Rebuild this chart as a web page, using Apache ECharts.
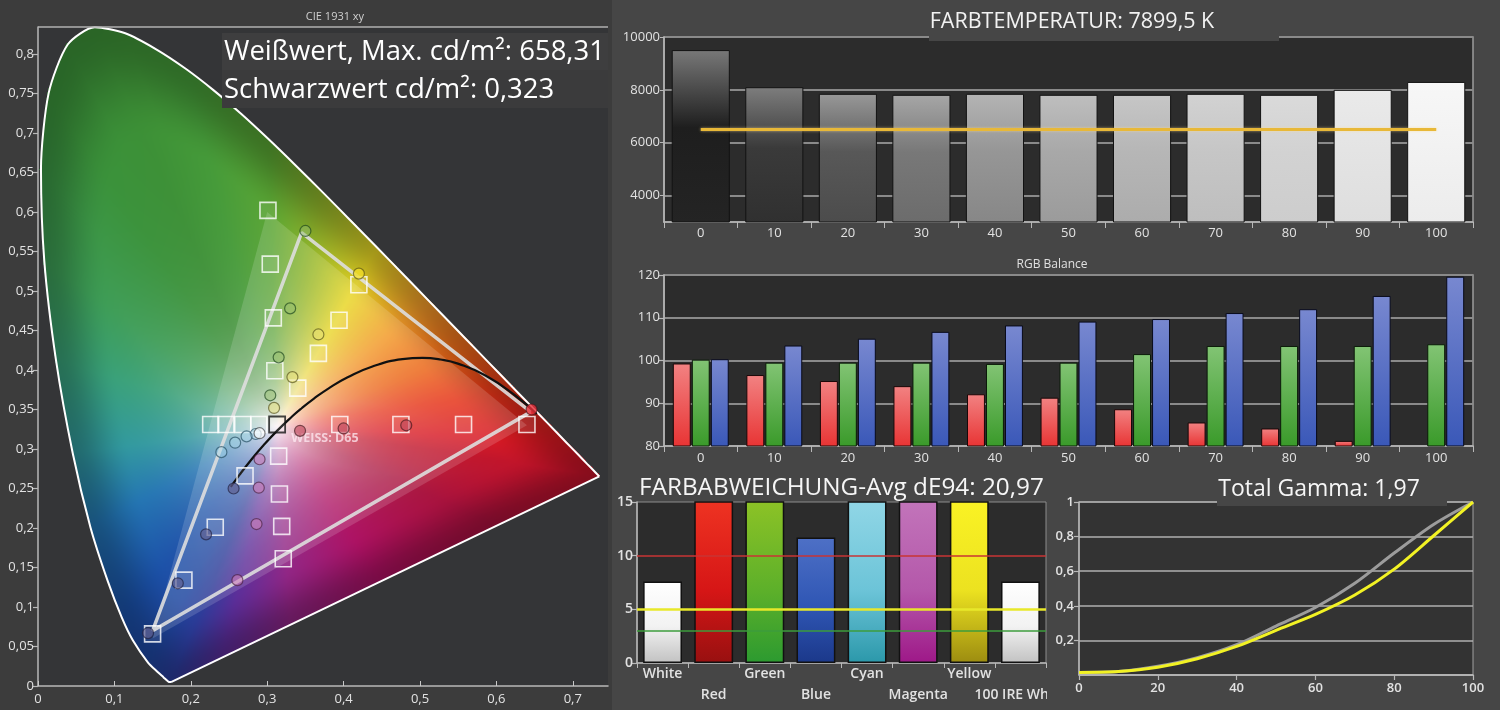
<!DOCTYPE html>
<html><head><meta charset="utf-8">
<script src="https://cdn.jsdelivr.net/npm/echarts@6/dist/echarts.min.js"></script>
<style>
html,body{margin:0;padding:0;}
body{background:linear-gradient(to right,#3c3c3c 0,#3c3c3c 612px,#464646 612px,#464646 100%);}
#c{width:1500px;height:710px;}
</style>
</head><body><div id="c"></div>
<script>
// ================= DATA =================
// CIE 1931 spectral locus (x, y)
const spectralLocus = [
 [0.1741,0.0050],[0.1733,0.0048],[0.1714,0.0051],[0.1689,0.0069],[0.1644,0.0109],
 [0.1566,0.0177],[0.1440,0.0297],[0.1241,0.0578],[0.1096,0.0868],[0.0913,0.1327],
 [0.0687,0.2007],[0.0454,0.2950],[0.0235,0.4127],[0.0082,0.5384],[0.0039,0.6548],
 [0.0139,0.7502],[0.0389,0.8120],[0.0743,0.8338],[0.1142,0.8262],[0.1547,0.8059],
 [0.1929,0.7816],[0.2296,0.7543],[0.2658,0.7243],[0.3016,0.6923],[0.3373,0.6589],
 [0.3731,0.6245],[0.4087,0.5896],[0.4441,0.5547],[0.4788,0.5202],[0.5125,0.4866],
 [0.5448,0.4544],[0.5752,0.4242],[0.6029,0.3965],[0.6270,0.3725],[0.6482,0.3514],
 [0.6658,0.3340],[0.6915,0.3083],[0.7079,0.2920],[0.7190,0.2809],[0.7260,0.2740],
 [0.7347,0.2653]
];
const planckLocus = [
 [0.2524,0.2522],[0.2637,0.2673],[0.2807,0.2883],[0.2952,0.3048],[0.3135,0.3236],
 [0.3325,0.3411],[0.3451,0.3516],[0.3608,0.3635],[0.3805,0.3768],[0.4053,0.3907],
 [0.4369,0.4041],[0.4770,0.4137],[0.5034,0.4153],[0.5267,0.4133],[0.5496,0.4081],
 [0.5857,0.3931],[0.6250,0.3674],[0.6528,0.3444]
];
const whitePoint = [0.3127,0.329];
const targetGamut = [[0.64,0.33],[0.30,0.60],[0.15,0.06]];
const measuredGamut = [[0.645,0.347],[0.345,0.574],[0.150,0.070]];
const whiteTarget = [[0.313,0.331]];
const targetSweep = [
 [0.395,0.331],[0.475,0.331],[0.557,0.331],[0.640,0.331],
 [0.289,0.331],[0.268,0.331],[0.246,0.331],[0.226,0.331],
 [0.310,0.399],[0.308,0.466],[0.304,0.534],[0.301,0.602],
 [0.340,0.377],[0.367,0.421],[0.394,0.463],[0.420,0.508],
 [0.271,0.266],[0.232,0.201],[0.191,0.134],[0.150,0.066],
 [0.315,0.291],[0.316,0.243],[0.319,0.202],[0.321,0.161]
];
const measuredRed = [[0.343,0.323],[0.400,0.326],[0.482,0.330],[0.646,0.350]];
const measuredCyan = [[0.285,0.319],[0.273,0.316],[0.258,0.308],[0.240,0.296]];
const measuredGreen = [[0.304,0.368],[0.315,0.416],[0.330,0.478],[0.350,0.576]];
const measuredYellow = [[0.309,0.352],[0.333,0.391],[0.367,0.445],[0.420,0.522]];
const measuredBlue = [[0.256,0.250],[0.220,0.192],[0.183,0.130],[0.144,0.067]];
const measuredMagenta = [[0.290,0.287],[0.289,0.251],[0.286,0.205],[0.261,0.134]];
const measuredWhite = [[0.290,0.320]];

const levelCategories = ['0','10','20','30','40','50','60','70','80','90','100'];
const cctValues = [9505,8100,7850,7812,7850,7812,7812,7850,7812,8000,8300];
const cctTarget = [6500,6500,6500,6500,6500,6500,6500,6500,6500,6500,6500];
const cctTicks = [4000,6000,8000,10000];

const rgbRed   = [99.3,96.6,95.2,94.0,92.1,91.3,88.6,85.5,84.1,81.2,79];
const rgbGreen = [100.2,99.5,99.5,99.5,99.2,99.5,101.5,103.4,103.4,103.4,103.8];
const rgbBlue  = [100.3,103.5,105.1,106.7,108.2,109.1,109.7,111.1,112.0,115.1,119.6];

const deCategories = ['White','Red','Green','Blue','Cyan','Magenta','Yellow','100 IRE White'];
const deValues = [7.6,28,30,11.7,27,26,30,7.6];
const deThresholds = [10,5,3];

const gammaX = [0,10,20,30,40,50,60,70,80,90,100];
const gammaReference = [0.015,0.02,0.05,0.10,0.175,0.283,0.39,0.53,0.705,0.87,1.0];
const gammaMeasured  = [0.015,0.02,0.045,0.094,0.165,0.258,0.35,0.462,0.612,0.805,1.0];

// ================= HELPERS =================
const SANS = '"Open Sans","Noto Sans",sans-serif';
const X_MAX = 570/764, Y_MAX = 659/790;
const comma = v => String(Math.round(v*100)/100).replace('.',',');
const G = echarts.graphic;

function hex(c){return [parseInt(c.slice(1,3),16),parseInt(c.slice(3,5),16),parseInt(c.slice(5,7),16)];}

let cieCanvas = null;
function buildCIE(w,h){
  const WX=whitePoint[0], WY=whitePoint[1];
  const poly = spectralLocus, NB = 2048;
  const R = new Float32Array(NB);
  for(let b=0;b<NB;b++){
    const a=b/NB*2*Math.PI-Math.PI, dx=Math.cos(a), dy=Math.sin(a);
    let best=1e9;
    for(let k=0;k<poly.length;k++){
      const p=poly[k], q=poly[(k+1)%poly.length];
      const ex=q[0]-p[0], ey=q[1]-p[1], den=dx*ey-dy*ex;
      if(Math.abs(den)<1e-12) continue;
      const px=p[0]-WX, py=p[1]-WY;
      const t=(px*ey-py*ex)/den, u=(px*dy-py*dx)/den;
      if(t>0&&u>=-1e-9&&u<=1+1e-9&&t<best) best=t;
    }
    R[b]=best;
  }
  // edge colour anchors (style only)
  const anchors = [
   [0.7347,0.2653,'#c01228'],[0.60,0.2028,'#a8103c'],[0.45,0.133,'#ac1062'],[0.33,0.077,'#902484'],
   [0.24,0.036,'#5a2c98'],[0.174,0.005,'#2a3a98'],[0.144,0.030,'#1e46a0'],[0.1096,0.0868,'#1a50a8'],
   [0.0687,0.2007,'#2274b2'],[0.0454,0.2950,'#30989e'],[0.0235,0.4127,'#38a078'],[0.0082,0.5384,'#3c9c55'],
   [0.0139,0.7502,'#3a923a'],[0.0743,0.8338,'#3c9036'],[0.1929,0.7816,'#449a38'],[0.3016,0.6923,'#58a432'],
   [0.3731,0.6245,'#92b62a'],[0.4441,0.5547,'#e8d624'],[0.5125,0.4866,'#f29a28'],[0.5752,0.4242,'#ec6418'],
   [0.6270,0.3725,'#e63418'],[0.6915,0.3083,'#d81822']
  ].map(a=>({ang:Math.atan2(a[1]-WY,a[0]-WX),c:hex(a[2])})).sort((p,q)=>p.ang-q.ang);
  const E = new Float32Array(NB*3);
  for(let b=0;b<NB;b++){
    const a=b/NB*2*Math.PI-Math.PI;
    const i=anchors.findIndex(o=>o.ang>a);
    let A,B,aA,aB;
    if(i<=0){
      A=anchors[anchors.length-1];B=anchors[0];
      if(i===0){aA=A.ang-2*Math.PI;aB=B.ang;} else {aA=A.ang;aB=B.ang+2*Math.PI;}
    } else {A=anchors[i-1];B=anchors[i];aA=A.ang;aB=B.ang;}
    const f=(a-aA)/(aB-aA);
    for(let k=0;k<3;k++)E[b*3+k]=A.c[k]+(B.c[k]-A.c[k])*f;
  }
  const cv=document.createElement('canvas'); cv.width=w; cv.height=h;
  const ctx=cv.getContext('2d'); const img=ctx.createImageData(w,h); const d=img.data;
  const WC=[252,242,246];
  for(let j=0;j<h;j++){
    const y=(1-(j+0.5)/h)*Y_MAX;
    for(let i=0;i<w;i++){
      const x=(i+0.5)/w*X_MAX;
      const dx=x-WX, dy=y-WY, dist=Math.hypot(dx,dy);
      let b=Math.floor((Math.atan2(dy,dx)+Math.PI)/(2*Math.PI)*NB); if(b>=NB)b=NB-1; if(b<0)b=0;
      const r=dist/R[b]; if(r>1.004) continue;
      const rr=Math.min(r,1);
      const s=Math.max(1-Math.pow(1-rr,3.3), 1-Math.exp(-dist/0.07));
      let t=(rr-0.72)/0.28; t=t<0?0:t>1?1:t; const dark=1-0.3*t*t*(3-2*t);
      const o=(j*w+i)*4;
      for(let k=0;k<3;k++) d[o+k]=(WC[k]*(1-s)+E[b*3+k]*s)*dark;
      d[o+3]=255;
    }
  }
  ctx.putImageData(img,0,0);
  return cv;
}

function axisCommon(extra){
  return Object.assign({
    axisLine:{show:true,lineStyle:{color:'#b8b8b8',width:1.5}},
    axisTick:{show:true,length:5,lineStyle:{color:'#b8b8b8',width:1.2}},
    axisLabel:{color:'#e2e2e2',fontFamily:SANS,fontSize:13},
    splitLine:{show:false}
  },extra);
}

const cctGray = [[120,30,36],[125,58,48],[152,88,76],[166,120,108],[180,150,135],[190,168,155],[198,182,172],[210,198,190],[218,210,205],[234,228,222],[247,242,236]];
const deGrad = [
 ['#ffffff','#f2f2f2','#c2c2c2'],['#ee3322','#d61616','#981010'],['#8cc226','#5db02a','#2c9a30'],
 ['#4e70c6','#2f56b4','#1b388a'],['#90d6e6','#6cc4d8','#2b98aa'],['#c274ba','#b458aa','#9e1888'],
 ['#faf224','#ece220','#9c8c10'],['#ffffff','#f2f2f2','#c2c2c2']
];
function vgrad(stops){return new G.LinearGradient(0,0,0,1,stops);}

// ================= OPTION =================
const sqStyle = {color:'rgba(255,255,255,0.10)',borderColor:'#ffffff',borderWidth:1.6};
function circles(name,data,fill,border){
  return {type:'scatter',name,xAxisIndex:0,yAxisIndex:0,data,symbol:'circle',symbolSize:11,z:8,silent:true,
    itemStyle:{color:fill,borderColor:border,borderWidth:1.2}};
}

const option = {
  animation:false,
  backgroundColor:'transparent',
  textStyle:{fontFamily:SANS},
  grid:[
    {left:38,top:27,width:570,height:659,show:true,backgroundColor:'#343537',borderWidth:0},
    {left:664,top:37,width:809,height:185,show:true,backgroundColor:'#2c2c2c',borderColor:'#9c9c9c',borderWidth:1.5},
    {left:664,top:275,width:809,height:171,show:true,backgroundColor:'#2c2c2c',borderColor:'#9c9c9c',borderWidth:1.5},
    {left:637,top:502,width:409,height:161,show:true,backgroundColor:'#2c2c2c',borderColor:'#8c8c8c',borderWidth:1},
    {left:1079,top:502,width:394,height:173,show:true,backgroundColor:'#333333',borderColor:'#a0a0a0',borderWidth:1}
  ],
  xAxis:[
    axisCommon({type:'value',gridIndex:0,min:0,max:X_MAX,interval:0.1,
      axisTick:{show:true,inside:true,length:5,lineStyle:{color:'#c8c8c8'}},
      axisLabel:{color:'#e2e2e2',fontFamily:SANS,fontSize:13,formatter:comma,showMaxLabel:false,margin:7}}),
    axisCommon({type:'category',gridIndex:1,data:levelCategories,
      axisTick:{show:true,length:6,lineStyle:{color:'#b8b8b8'}},
      axisLabel:{color:'#e2e2e2',fontFamily:SANS,fontSize:13,margin:5}}),
    axisCommon({type:'category',gridIndex:2,data:levelCategories,
      axisTick:{show:true,length:6,lineStyle:{color:'#b8b8b8'}},
      axisLabel:{color:'#e2e2e2',fontFamily:SANS,fontSize:13,margin:6}}),
    axisCommon({type:'category',gridIndex:3,data:deCategories,
      axisTick:{show:true,length:5,lineStyle:{color:'#b8b8b8'}},
      axisLabel:{color:'#e2e2e2',fontFamily:SANS,fontSize:14,fontWeight:600,margin:1,interval:0,lineHeight:21,
        formatter:(v,i)=> i%2 ? '\n'+v : v}}),
    axisCommon({type:'value',gridIndex:4,min:0,max:100,interval:20,
      axisLabel:{color:'#e2e2e2',fontFamily:SANS,fontSize:13,fontWeight:600,margin:7}})
  ],
  yAxis:[
    axisCommon({type:'value',gridIndex:0,min:0,max:Y_MAX,interval:0.05,
      axisLabel:{color:'#e2e2e2',fontFamily:SANS,fontSize:13,formatter:comma,showMaxLabel:false,margin:4}}),
    axisCommon({type:'value',gridIndex:1,min:3000,max:10000,
      axisTick:{show:true,length:4,customValues:cctTicks,lineStyle:{color:'#b8b8b8'}},
      axisLabel:{color:'#e2e2e2',fontFamily:SANS,fontSize:13,margin:4,customValues:cctTicks,formatter:v=>String(v)},
      splitLine:{show:true,lineStyle:{color:'#8a8a8a',width:2}}}),
    axisCommon({type:'value',gridIndex:2,min:80,max:120,interval:10,
      axisLabel:{color:'#e2e2e2',fontFamily:SANS,fontSize:13,margin:4},
      splitLine:{show:true,lineStyle:{color:'#8a8a8a',width:2}}}),
    axisCommon({type:'value',gridIndex:3,min:0,max:15,interval:5,
      axisLabel:{color:'#e2e2e2',fontFamily:SANS,fontSize:14,fontWeight:600,margin:4}}),
    axisCommon({type:'value',gridIndex:4,min:0,max:1,interval:0.2,
      axisLabel:{color:'#e2e2e2',fontFamily:SANS,fontSize:13,fontWeight:600,margin:5,showMinLabel:false,formatter:comma},
      splitLine:{show:true,lineStyle:{color:'#b0b0b0',width:1.5}}})
  ],
  series:[
    // --- CIE chart ---
    {type:'custom',xAxisIndex:0,yAxisIndex:0,silent:true,z:1,data:[[0,0]],
      renderItem:(params,api)=>{
        const p0=api.coord([0,Y_MAX]), p1=api.coord([X_MAX,0]);
        const w=Math.round(p1[0]-p0[0]), h=Math.round(p1[1]-p0[1]);
        if(!cieCanvas) cieCanvas=buildCIE(w,h);
        return {type:'image',style:{image:cieCanvas,x:p0[0],y:p0[1],width:w,height:h}};
      }},
    {type:'custom',xAxisIndex:0,yAxisIndex:0,silent:true,z:2,data:[[0,0]],
      renderItem:(params,api)=>({type:'polygon',shape:{points:targetGamut.map(p=>api.coord(p))},
        style:{fill:'rgba(255,255,255,0.15)'}})},
    {type:'line',xAxisIndex:0,yAxisIndex:0,data:spectralLocus,smooth:0.25,symbol:'none',silent:true,z:3,
      lineStyle:{color:'#ffffff',width:2}},
    {type:'line',xAxisIndex:0,yAxisIndex:0,data:[spectralLocus[spectralLocus.length-1],spectralLocus[0]],symbol:'none',silent:true,z:3,
      lineStyle:{color:'#ffffff',width:2}},
    {type:'line',xAxisIndex:0,yAxisIndex:0,data:measuredGamut.concat([measuredGamut[0]]),symbol:'none',silent:true,z:4,
      lineStyle:{color:'rgba(222,222,222,0.9)',width:3.5}},
    {type:'line',xAxisIndex:0,yAxisIndex:0,data:planckLocus,smooth:true,symbol:'none',silent:true,z:5,
      lineStyle:{color:'#111111',width:2.2}},
    {type:'scatter',xAxisIndex:0,yAxisIndex:0,data:targetSweep,symbol:'rect',symbolSize:16,z:6,silent:true,itemStyle:sqStyle},
    {type:'scatter',xAxisIndex:0,yAxisIndex:0,data:whiteTarget,symbol:'rect',symbolSize:16,z:6,silent:true,
      itemStyle:{color:'rgba(255,255,255,0.15)',borderColor:'#151515',borderWidth:1.8},
      label:{show:true,formatter:'WEISS: D65',position:[23,23],verticalAlign:'middle',align:'left',
        color:'rgba(255,236,244,0.92)',fontFamily:SANS,fontSize:12.5,fontWeight:700}},
    circles('r',measuredRed,p=>p.dataIndex===3?'#e8303a':'rgba(190,70,90,0.75)','rgba(60,20,25,0.8)'),
    circles('c',measuredCyan,'rgba(165,215,235,0.55)','rgba(30,70,90,0.8)'),
    circles('g',measuredGreen,'rgba(150,190,110,0.6)','rgba(30,70,30,0.85)'),
    circles('y',measuredYellow,p=>p.dataIndex===3?'#f0dc28':'rgba(235,225,120,0.6)','rgba(80,75,20,0.8)'),
    circles('b',measuredBlue,'rgba(95,95,145,0.85)','rgba(30,30,60,0.8)'),
    circles('m',measuredMagenta,'rgba(205,125,185,0.75)','rgba(70,30,60,0.8)'),
    circles('w',measuredWhite,'rgba(255,255,255,0.85)','rgba(60,60,60,0.8)'),

    // --- Farbtemperatur ---
    {type:'bar',xAxisIndex:1,yAxisIndex:1,data:cctValues,barCategoryGap:'21%',z:2,silent:true,
      itemStyle:{borderColor:'#121212',borderWidth:1,
        color:p=>{const g=cctGray[p.dataIndex];const c=v=>`rgb(${v},${v},${v})`;
          return vgrad([{offset:0,color:c(g[0])},{offset:0.45,color:c(g[1])},{offset:1,color:c(g[2])}]);}}},
    {type:'line',xAxisIndex:1,yAxisIndex:1,data:cctTarget,symbol:'none',z:3,silent:true,
      lineStyle:{color:'#e8b838',width:3,shadowColor:'rgba(255,225,140,0.6)',shadowBlur:3}},

    // --- RGB Balance ---
    {type:'bar',xAxisIndex:2,yAxisIndex:2,data:rgbRed,barGap:'6%',barCategoryGap:'24%',z:2,silent:true,
      itemStyle:{borderColor:'#1a0808',borderWidth:1,color:vgrad([{offset:0,color:'#f28282'},{offset:1,color:'#e83434'}])}},
    {type:'bar',xAxisIndex:2,yAxisIndex:2,data:rgbGreen,barGap:'6%',barCategoryGap:'24%',z:2,silent:true,
      itemStyle:{borderColor:'#0a1a08',borderWidth:1,color:vgrad([{offset:0,color:'#82c474'},{offset:1,color:'#3a9a2a'}])}},
    {type:'bar',xAxisIndex:2,yAxisIndex:2,data:rgbBlue,barGap:'6%',barCategoryGap:'24%',z:2,silent:true,
      itemStyle:{borderColor:'#080a1a',borderWidth:1,color:vgrad([{offset:0,color:'#7888d0'},{offset:1,color:'#3a58b8'}])}},

    // --- Farbabweichung ---
    {type:'bar',xAxisIndex:3,yAxisIndex:3,data:deValues,barCategoryGap:'24%',z:2,silent:true,
      itemStyle:{borderColor:'#111',borderWidth:1.5,
        color:p=>{const g=deGrad[p.dataIndex];return vgrad([{offset:0,color:g[0]},{offset:0.55,color:g[1]},{offset:1,color:g[2]}]);}},
      markLine:{silent:true,symbol:['none','none'],label:{show:false},
        data:deThresholds.map((v,i)=>({yAxis:v,lineStyle:{type:'solid',
          color:['#c83434','#e8e82a','#3c9c3c'][i],width:[1.5,2.5,1.5][i]}}))}},

    // --- Gamma ---
    {type:'line',xAxisIndex:4,yAxisIndex:4,data:gammaX.map((x,i)=>[x,gammaReference[i]]),smooth:0.3,symbol:'none',z:3,silent:true,
      lineStyle:{color:'#9c9c9c',width:3}},
    {type:'line',xAxisIndex:4,yAxisIndex:4,data:gammaX.map((x,i)=>[x,gammaMeasured[i]]),smooth:0.3,symbol:'none',z:4,silent:true,
      lineStyle:{color:'#f2f224',width:3}}
  ],
  graphic:[
    {type:'line',shape:{x1:38,y1:27,x2:608,y2:27},style:{stroke:'#b0b0b0',lineWidth:1.5},z:50,silent:true},
    {type:'text',x:335,y:17,style:{text:'CIE 1931 xy',fill:'#d0d0d0',font:'11px '+SANS,textAlign:'center',textVerticalAlign:'middle'},z:50,silent:true},
    {type:'rect',shape:{x:222,y:33,width:386,height:37},style:{fill:'#3e3e3f'},z:50,silent:true},
    {type:'rect',shape:{x:222,y:70,width:386,height:38},style:{fill:'#3b3b3c'},z:50,silent:true},
    {type:'text',x:224,y:52,style:{text:'Weißwert, Max. cd/m²: 658,31',fill:'#ffffff',font:'27.5px '+SANS,textVerticalAlign:'middle'},z:51,silent:true},
    {type:'text',x:224,y:90,style:{text:'Schwarzwert cd/m²: 0,323',fill:'#ffffff',font:'27.5px '+SANS,textVerticalAlign:'middle'},z:51,silent:true},
    {type:'rect',shape:{x:929,y:6,width:350,height:35},style:{fill:'#464646'},z:50,silent:true},
    {type:'text',x:1072,y:22,style:{text:'FARBTEMPERATUR: 7899,5 K',fill:'#f2f2f2',font:'21.5px '+SANS,textAlign:'center',textVerticalAlign:'middle'},z:51,silent:true},
    {type:'text',x:1052,y:265,style:{text:'RGB Balance',fill:'#e0e0e0',font:'12px '+SANS,textAlign:'center',textVerticalAlign:'middle'},z:51,silent:true},
    {type:'text',x:639,y:488,style:{text:'FARBABWEICHUNG-Avg dE94: 20,97',fill:'#f6f6f6',font:'24.3px '+SANS,textVerticalAlign:'middle'},z:51,silent:true},
    {type:'rect',shape:{x:1217,y:474,width:230,height:32},style:{fill:'#464646'},z:50,silent:true},
    {type:'text',x:1319,y:489,style:{text:'Total Gamma: 1,97',fill:'#f6f6f6',font:'23px '+SANS,textAlign:'center',textVerticalAlign:'middle'},z:51,silent:true},
    {type:'rect',shape:{x:1047,y:680,width:26,height:28},style:{fill:'#464646'},z:60,silent:true}
  ]
};
const chart = echarts.init(document.getElementById('c'),null,{renderer:'canvas',width:1500,height:710});
chart.setOption(option);
</script>
</body></html>
